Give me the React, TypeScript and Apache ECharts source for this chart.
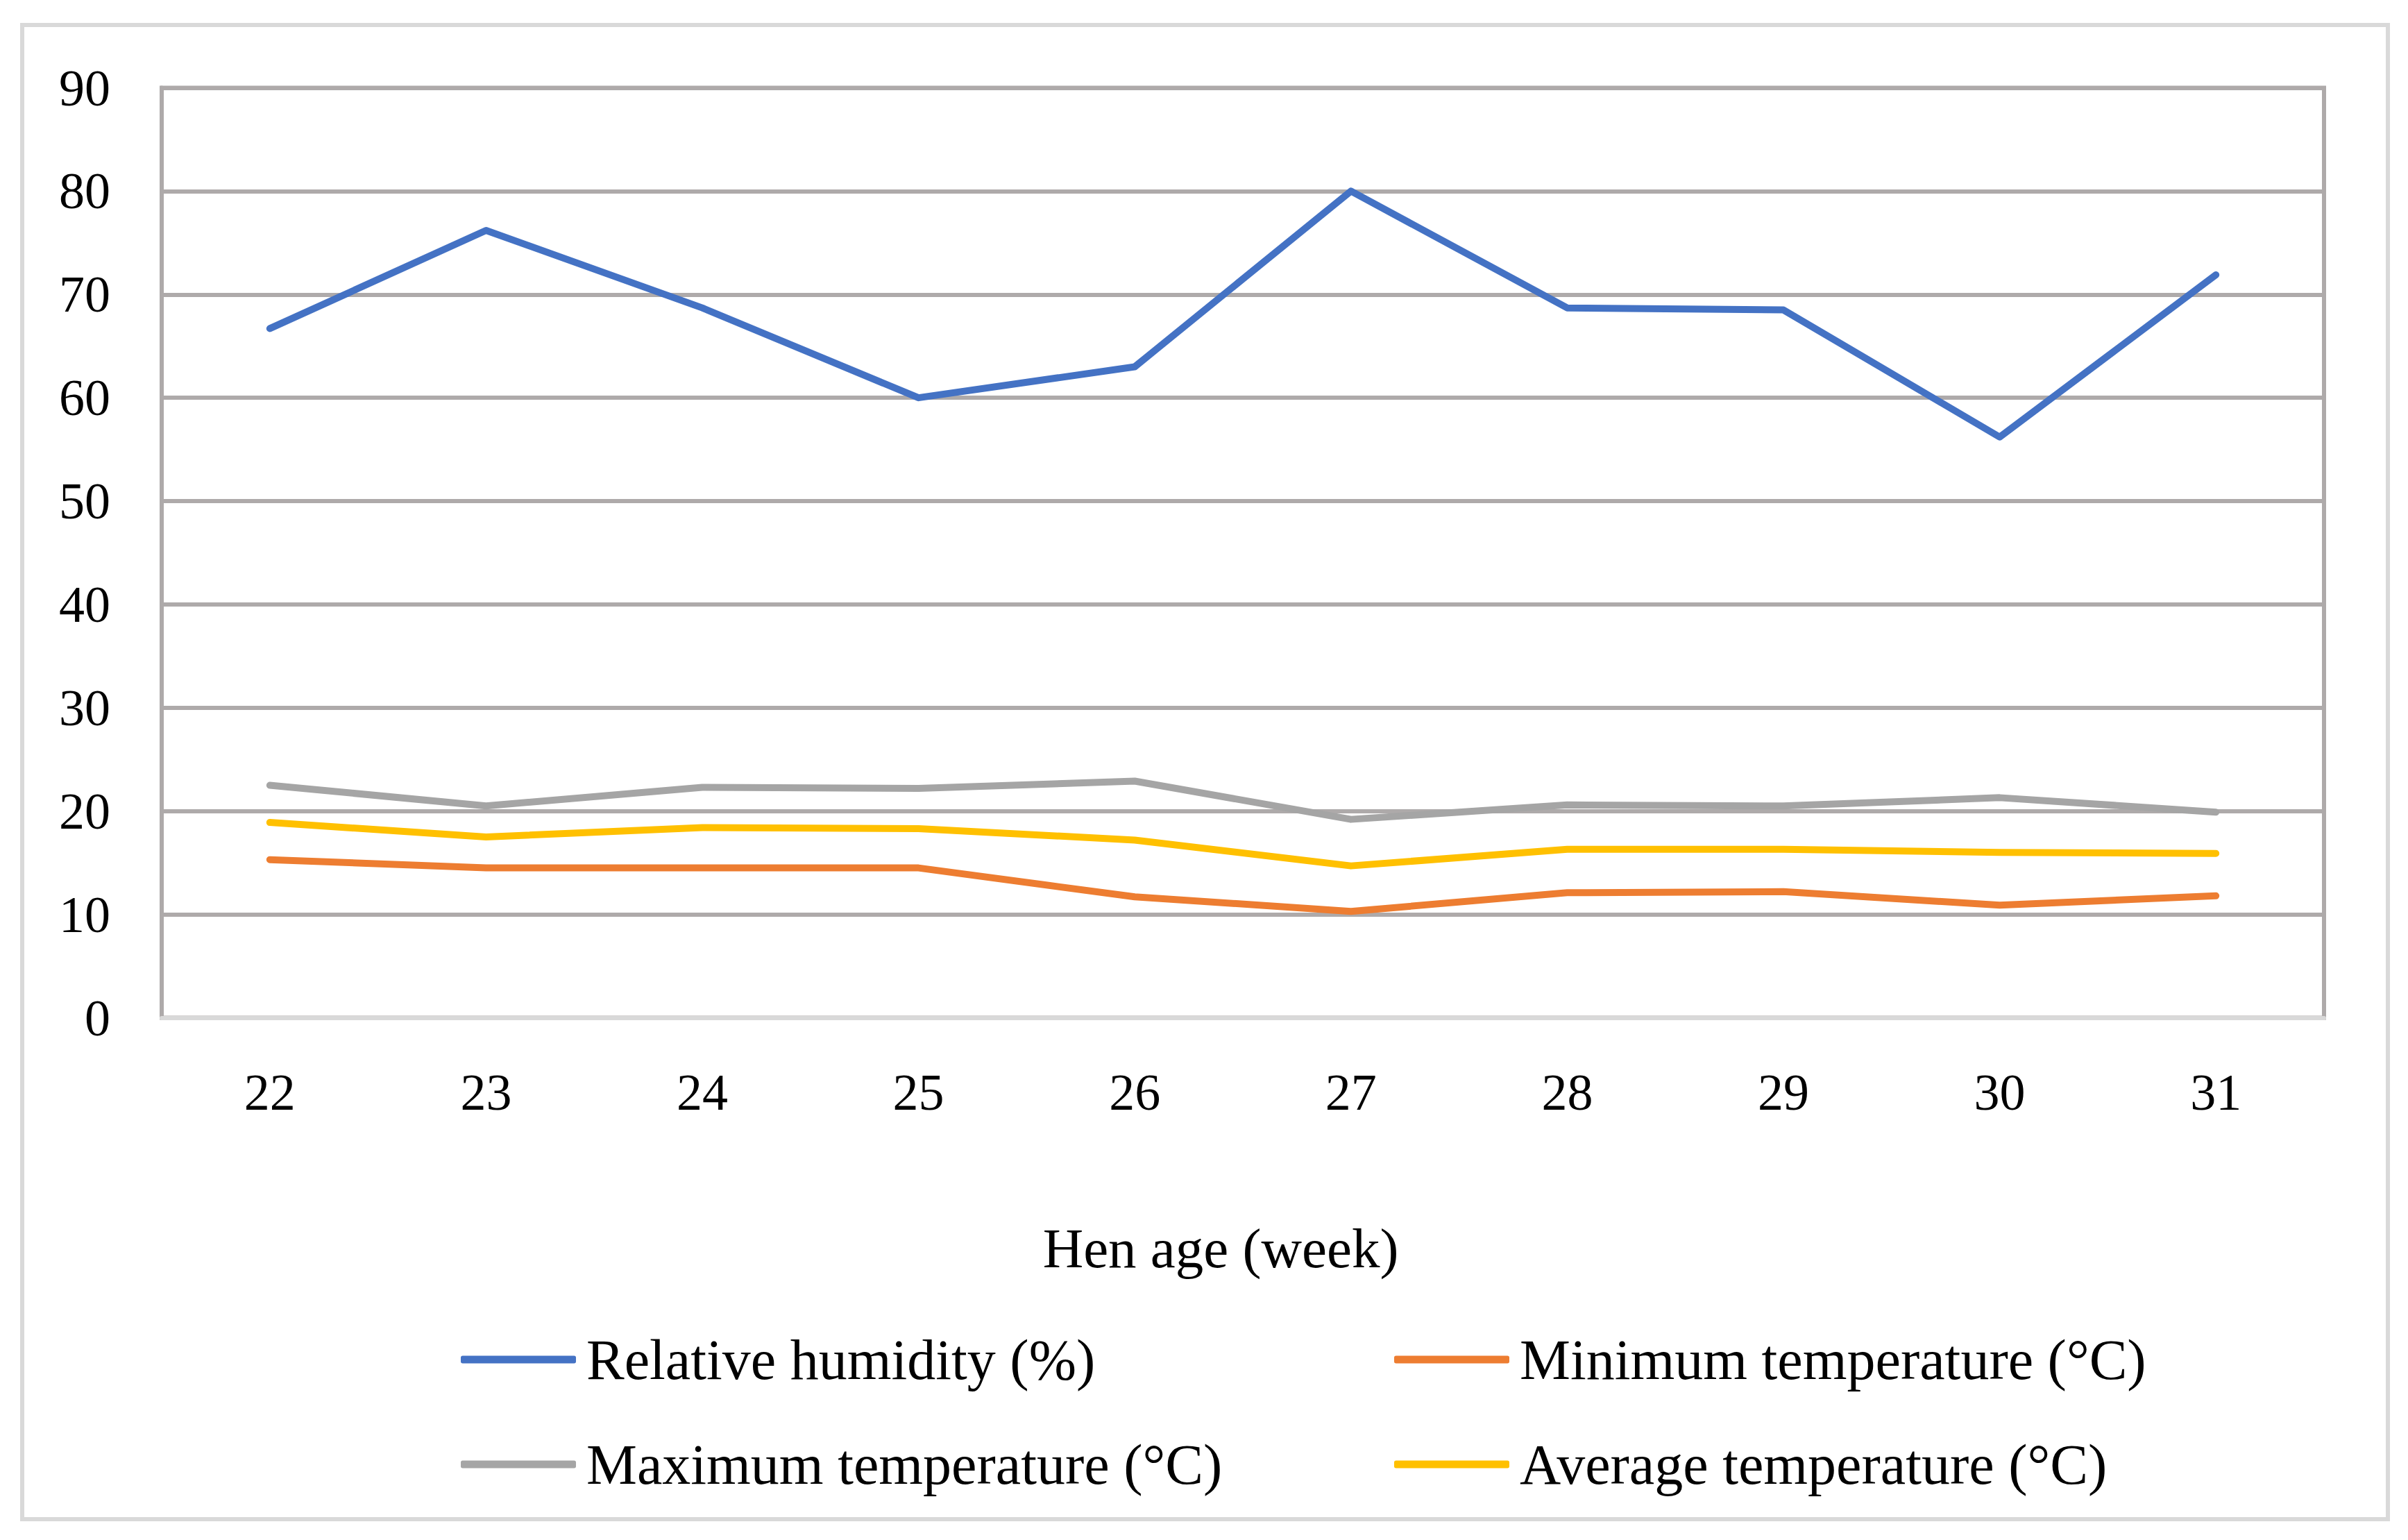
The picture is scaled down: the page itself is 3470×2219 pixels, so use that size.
import React, { useEffect, useRef } from "react";
import * as echarts from "echarts";

const weeks = ["22", "23", "24", "25", "26", "27", "28", "29", "30", "31"];
const relativeHumidity = [66.7, 76.2, 68.7, 60.0, 63.0, 80.0, 68.7, 68.5, 56.2, 71.9];
const minimumTemperature = [15.3, 14.5, 14.5, 14.5, 11.7, 10.3, 12.1, 12.2, 10.9, 11.8];
const maximumTemperature = [22.5, 20.5, 22.3, 22.2, 22.9, 19.2, 20.6, 20.5, 21.3, 19.9];
const averageTemperature = [18.9, 17.5, 18.4, 18.3, 17.2, 14.7, 16.3, 16.3, 16.0, 15.9];

const seriesNames = [
  "Relative humidity (%)",
  "Minimum temperature (°C)",
  "Maximum temperature (°C)",
  "Average temperature (°C)",
];
const seriesColors = ["#4472C4", "#ED7D31", "#A5A5A5", "#FFC000"];
const yMin = 0;
const yMax = 90;
const yInterval = 10;
const xAxisTitle = "Hen age (week)";

const FONT = "'Liberation Serif', 'Times New Roman', serif";

export default function App() {
  const ref = useRef<HTMLDivElement>(null);

  useEffect(() => {
    if (!ref.current) return;
    const chart = echarts.init(ref.current, null, { renderer: "svg" });
    const seriesData = [relativeHumidity, minimumTemperature, maximumTemperature, averageTemperature];

    const legendCommon = {
      padding: 0,
      itemWidth: 166,
      itemHeight: 11,
      icon: "roundRect",
      selectedMode: false,
      textStyle: {
        fontFamily: FONT,
        fontSize: 82,
        color: "#000",
        lineHeight: 82,
        padding: [0, 0, 0, 10],
      },
    };
    const legendPos = [
      { left: 664, top: 1918 },
      { left: 2009, top: 1918 },
      { left: 664, top: 2069 },
      { left: 2009, top: 2069 },
    ];

    chart.setOption({
      animation: false,
      backgroundColor: "#fff",
      graphic: [
        {
          type: "rect",
          shape: { x: 32, y: 36, width: 3409, height: 2153 },
          style: { fill: "none", stroke: "#D9D9D9", lineWidth: 6 },
          silent: true,
          z: -1,
        },
      ],
      grid: {
        left: 233,
        top: 126.5,
        width: 3116,
        height: 1340,
        show: true,
        borderColor: "#AEAAAA",
        borderWidth: 6,
        backgroundColor: "transparent",
      },
      legend: legendPos.map((p, i) => ({
        ...legendCommon,
        ...p,
        data: [seriesNames[i]],
      })),
      xAxis: {
        type: "category",
        data: weeks,
        boundaryGap: true,
        axisLine: { show: true, lineStyle: { color: "#D9D9D9", width: 6 } },
        axisTick: { show: false },
        axisLabel: { fontFamily: FONT, fontSize: 74, color: "#000", margin: 70 },
        splitLine: { show: false },
        name: xAxisTitle,
        nameLocation: "middle",
        nameGap: 292,
        nameTextStyle: {
          fontFamily: FONT,
          fontSize: 81,
          color: "#000",
          padding: [0, 64, 0, 0],
        },
      },
      yAxis: {
        type: "value",
        min: yMin,
        max: yMax,
        interval: yInterval,
        axisLine: { show: true, lineStyle: { color: "#AEAAAA", width: 6 } },
        axisTick: { show: false },
        axisLabel: { fontFamily: FONT, fontSize: 74, color: "#000", margin: 74 },
        splitLine: { show: true, lineStyle: { color: "#AEAAAA", width: 6 } },
      },
      series: seriesNames.map((name, i) => ({
        name,
        type: "line",
        data: seriesData[i],
        symbol: "none",
        showSymbol: false,
        color: seriesColors[i],
        lineStyle: { color: seriesColors[i], width: 10, cap: "round", join: "round" },
        z: 3,
      })),
    });

    return () => chart.dispose();
  }, []);

  return (
    <div
      ref={ref}
      style={{ position: "fixed", left: 0, top: 0, width: 3470, height: 2219, background: "#fff" }}
    />
  );
}
